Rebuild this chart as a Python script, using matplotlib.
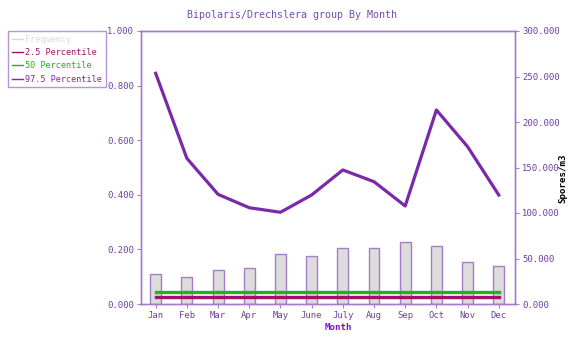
import matplotlib
matplotlib.use("Agg")
from matplotlib import pyplot as plt
from matplotlib.ticker import FuncFormatter
import numpy as np

# Data
months = ["Jan", "Feb", "Mar", "Apr", "May", "June", "July", "Aug", "Sep", "Oct", "Nov", "Dec"]
frequency = [0.110, 0.098, 0.125, 0.131, 0.182, 0.176, 0.206, 0.204, 0.226, 0.212, 0.155, 0.140]
pct_2_5 = [7400] * 12
pct_50 = [13200] * 12
pct_97_5 = [253500, 160100, 120500, 105800, 100800, 119800, 147300, 134400, 107700, 213200, 172900, 119800]

# Colours
axis_col = "#a57cc8"
tick_col = "#6a3fa0"
bar_col = "#dcdcdc"
freq_col = "#d8d8d8"
red_col = "#a0106a"
green_col = "#22b022"
purple_col = "#7a2aa8"

plt.rcParams["font.family"] = ["DejaVu Sans Mono"]

fig = plt.figure(figsize=(5.84, 3.5), dpi=100)
ax = fig.add_axes([141 / 584, 46 / 350, 374 / 584, 273 / 350])
ax2 = ax.twinx()

x = np.arange(len(months))

# Frequency bars on the left axis
ax.bar(x, frequency, width=0.35, color=bar_col, edgecolor=axis_col, linewidth=1.0, zorder=1)
ax.set_ylim(0, 1.0)
ax.set_xlim(-0.47, 11.52)
ax.set_yticks(np.arange(0, 1.01, 0.2))
ax.yaxis.set_major_formatter(FuncFormatter(lambda v, p: f"{v:.3f}"))
ax.set_xticks(x)
ax.set_xticklabels(months)

# Percentile lines on the right axis
ax2.plot(x, pct_2_5, color=red_col, linewidth=2.4, zorder=3)
ax2.plot(x, pct_50, color=green_col, linewidth=2.4, zorder=3)
ax2.plot(x, pct_97_5, color=purple_col, linewidth=2.3, zorder=3)
ax2.set_ylim(0, 300000)
ax2.set_yticks(np.arange(0, 300001, 50000))
ax2.yaxis.set_major_formatter(FuncFormatter(lambda v, p: f"{v / 1000:.3f}"))

for a in (ax, ax2):
    for s in a.spines.values():
        s.set_color(axis_col)
        s.set_linewidth(1.0)
    a.tick_params(colors=axis_col, labelcolor=tick_col, labelsize=6.4, length=3, width=0.8, direction="out", pad=2)
ax.set_zorder(ax2.get_zorder() - 1)
ax.patch.set_visible(True)
ax2.patch.set_visible(False)

fig.text(0.5, 1 - 15 / 350, "Bipolaris/Drechslera group By Month", ha="center", va="center",
         fontsize=7.2, color="#7050a8")
fig.text(338 / 584, 1 - 328 / 350, "Month", ha="center", va="center",
         fontsize=6.6, color="#7711cc", fontweight="bold")
fig.text(563 / 584, 1 - 178 / 350, "Spores/m3", ha="center", va="center", rotation=90,
         fontsize=6.6, color="black", fontweight="bold")

# Legend
handles = [
    plt.Line2D([], [], color=freq_col, linewidth=1),
    plt.Line2D([], [], color=red_col, linewidth=1),
    plt.Line2D([], [], color=green_col, linewidth=1),
    plt.Line2D([], [], color=purple_col, linewidth=1),
]
labels = ["Frequency", "2.5 Percentile", "50 Percentile", "97.5 Percentile"]
leg = fig.legend(handles, labels, loc="upper left", bbox_to_anchor=(8 / 584, 1 - 31 / 350),
                 fontsize=6.1, frameon=True, fancybox=False, handlelength=1.3, handletextpad=0.3,
                 borderpad=0.45, labelspacing=0.5, borderaxespad=0)
leg.get_frame().set_edgecolor(axis_col)
leg.get_frame().set_linewidth(1.0)
for t, c in zip(leg.get_texts(), [freq_col, red_col, green_col, purple_col]):
    t.set_color(c)

fig.savefig("out.png", dpi=100)
